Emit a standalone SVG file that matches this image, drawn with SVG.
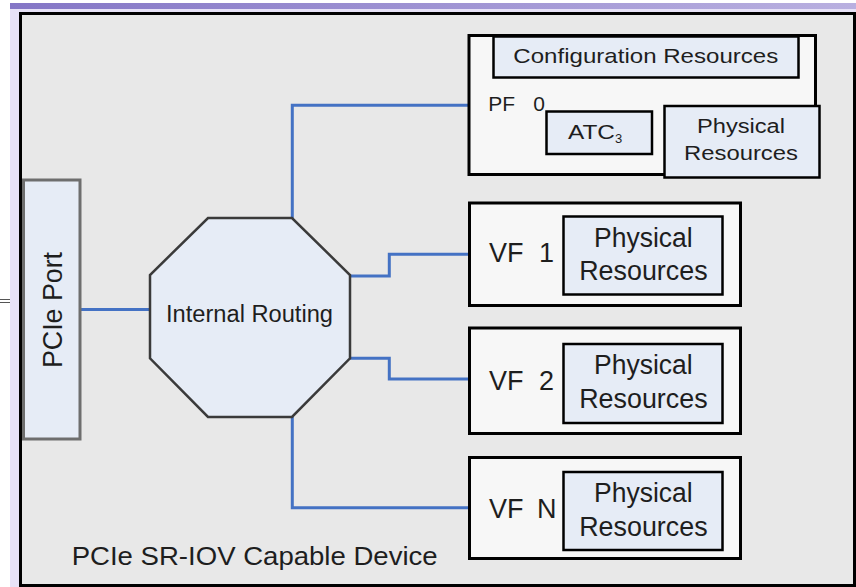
<svg xmlns="http://www.w3.org/2000/svg" width="856" height="587" viewBox="0 0 856 587">
  <defs>
    <linearGradient id="band" x1="0" y1="0" x2="1" y2="0">
      <stop offset="0" stop-color="#8476c6"/>
      <stop offset="1" stop-color="#b9b0e0"/>
    </linearGradient>
    <style>
      text { font-family: "Liberation Sans", Arial, sans-serif; fill: #1e1e1e; }
      .outer { fill: #f7f7f7; stroke: #000; stroke-width: 3; }
      .inner { fill: #e6ecf6; stroke: #000; stroke-width: 2.5; }
      .conn { fill: none; stroke: #4472c4; stroke-width: 3; }
      .big { font-size: 27px; }
      .small { font-size: 20px; }
    </style>
  </defs>

  <!-- page background -->
  <rect x="0" y="0" width="856" height="587" fill="#ffffff"/>
  <rect x="10" y="3" width="846" height="584" fill="#e7e2f7"/>
  <rect x="10" y="3" width="846" height="6" fill="url(#band)"/>
  <line x1="0" y1="299.5" x2="10" y2="299.5" stroke="#555" stroke-width="1"/>
  <line x1="0" y1="302.5" x2="10" y2="302.5" stroke="#555" stroke-width="1"/>

  <!-- device frame -->
  <g id="device">
    <rect x="20.5" y="13.5" width="834" height="572" fill="#e8e8e8" stroke="#000" stroke-width="3"/>
    <text x="71.7" y="565" font-size="25" textLength="366" lengthAdjust="spacingAndGlyphs">PCIe SR-IOV Capable Device</text>
  </g>

  <!-- connectors -->
  <g id="connectors">
    <path class="conn" d="M81 309.5 H151.5 V322"/>
    <path class="conn" d="M292.3 218 V105.3 H469"/>
    <path class="conn" d="M350 276 H389.3 V254.3 H469"/>
    <path class="conn" d="M350 358.3 H389.3 V379 H469"/>
    <path class="conn" d="M292.3 417 V507.7 H469"/>
  </g>

  <!-- PCIe Port -->
  <g id="pcie-port">
    <rect x="23.5" y="180" width="56.5" height="259" fill="#e6ecf6" stroke="#6e6e6e" stroke-width="3"/>
    <text transform="translate(61.5,310) rotate(-90)" text-anchor="middle" font-size="27" textLength="116" lengthAdjust="spacingAndGlyphs">PCIe Port</text>
  </g>

  <!-- Internal Routing -->
  <g id="internal-routing">
    <polygon points="208,218 292,218 350,275 350,358.3 292,417 208,417 150,358.3 150,275" fill="#e6ecf6" stroke="#3a3a3a" stroke-width="2.5"/>
    <text x="249.5" y="322.3" text-anchor="middle" font-size="23.5" textLength="167" lengthAdjust="spacingAndGlyphs">Internal Routing</text>
  </g>

  <!-- PF 0 -->
  <g id="pf0">
    <rect class="outer" x="469" y="35.5" width="346.5" height="139"/>
    <rect class="inner" x="493.5" y="36.5" width="305" height="41"/>
    <text x="645.8" y="63.3" text-anchor="middle" font-size="21" textLength="265" lengthAdjust="spacingAndGlyphs">Configuration Resources</text>
    <text x="488.3" y="110.7" font-size="21">PF <tspan x="533.3">0</tspan></text>
    <rect class="inner" x="546.5" y="111.5" width="105.5" height="42.5"/>
    <text x="568" y="139.3" font-size="21"><tspan textLength="47" lengthAdjust="spacingAndGlyphs">ATC</tspan><tspan font-size="13" dy="3.5">3</tspan></text>
    <rect class="inner" x="664.5" y="106" width="155" height="71.5"/>
    <text x="741" y="132.7" text-anchor="middle" class="small" textLength="88" lengthAdjust="spacingAndGlyphs">Physical</text>
    <text x="741" y="160" text-anchor="middle" class="small" textLength="114" lengthAdjust="spacingAndGlyphs">Resources</text>
  </g>

  <!-- VF 1 -->
  <g id="vf1">
    <rect class="outer" x="469.5" y="203" width="271" height="102.5"/>
    <text x="489" y="261.7" class="big">VF <tspan x="539">1</tspan></text>
    <rect class="inner" x="563.5" y="216.5" width="159" height="78"/>
    <text x="643.4" y="246.7" text-anchor="middle" class="big" textLength="98.7" lengthAdjust="spacingAndGlyphs">Physical</text>
    <text x="643.4" y="280" text-anchor="middle" class="big" textLength="128.4" lengthAdjust="spacingAndGlyphs">Resources</text>
  </g>

  <!-- VF 2 -->
  <g id="vf2">
    <rect class="outer" x="469.5" y="328" width="271" height="105.5"/>
    <text x="489" y="390" class="big">VF <tspan x="539">2</tspan></text>
    <rect class="inner" x="563.5" y="344" width="159" height="79"/>
    <text x="643.4" y="374.3" text-anchor="middle" class="big" textLength="98.7" lengthAdjust="spacingAndGlyphs">Physical</text>
    <text x="643.4" y="407.7" text-anchor="middle" class="big" textLength="128.4" lengthAdjust="spacingAndGlyphs">Resources</text>
  </g>

  <!-- VF N -->
  <g id="vfn">
    <rect class="outer" x="469.5" y="457.5" width="271" height="101"/>
    <text x="489" y="518.3" class="big">VF <tspan x="537">N</tspan></text>
    <rect class="inner" x="563.5" y="472" width="159" height="78"/>
    <text x="643.4" y="501.7" text-anchor="middle" class="big" textLength="98.7" lengthAdjust="spacingAndGlyphs">Physical</text>
    <text x="643.4" y="536" text-anchor="middle" class="big" textLength="128.4" lengthAdjust="spacingAndGlyphs">Resources</text>
  </g>
</svg>
